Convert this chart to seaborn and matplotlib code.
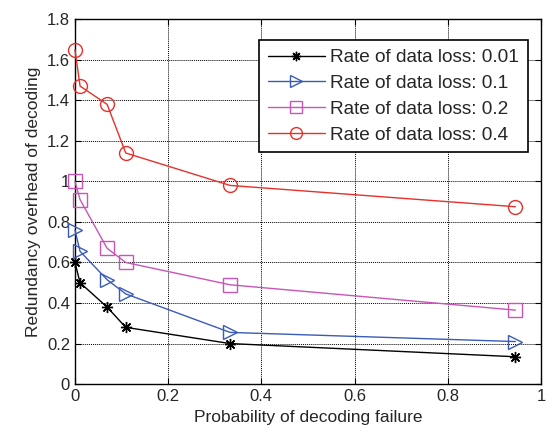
import numpy as np
import pandas as pd
import matplotlib
matplotlib.use("Agg")
import matplotlib.pyplot as plt
import seaborn as sns

fail_prob = [0.0, 0.011, 0.069, 0.109, 0.333, 0.945]
overhead_001 = [0.60, 0.50, 0.38, 0.28, 0.20, 0.135]
overhead_01 = [0.76, 0.655, 0.515, 0.445, 0.255, 0.21]
overhead_02 = [1.00, 0.91, 0.67, 0.60, 0.49, 0.365]
overhead_04 = [1.65, 1.47, 1.38, 1.14, 0.98, 0.875]
loss_labels = ["Rate of data loss: 0.01", "Rate of data loss: 0.1",
               "Rate of data loss: 0.2", "Rate of data loss: 0.4"]

df = pd.DataFrame({
    "p": fail_prob * 4,
    "overhead": overhead_001 + overhead_01 + overhead_02 + overhead_04,
    "loss": [l for l in loss_labels for _ in fail_prob],
})

sns.set_style("white")
plt.rcParams["font.family"] = ["Liberation Sans", "DejaVu Sans"]

colors = ["#000000", "#3a5bb8", "#c855b8", "#e8302a"]
# MATLAB-like asterisk: 8 spokes
markers = [(8, 2, 0), ">", "s", "o"]
sizes = [8, 10, 10, 10]

fig = plt.figure(figsize=(5.47, 4.36), dpi=100)
ax = fig.add_axes([0.137, 0.119, 0.852, 0.837])

for lab, c, m, ms in zip(loss_labels, colors, markers, sizes):
    sub = df[df["loss"] == lab]
    sns.lineplot(data=sub, x="p", y="overhead", ax=ax, color=c, marker=m,
                 markersize=ms, markerfacecolor="none",
                 markeredgecolor=c, markeredgewidth=1.0, linewidth=1.0,
                 label=lab, estimator=None, sort=False, clip_on=False, zorder=3)

ax.set_xlim(0, 1)
ax.set_ylim(0, 1.8)
ax.set_xticks([0, 0.2, 0.4, 0.6, 0.8, 1.0])
ax.set_xticklabels(["0", "0.2", "0.4", "0.6", "0.8", "1"])
ax.set_yticks(np.arange(0, 1.81, 0.2))
ax.set_yticklabels(["0", "0.2", "0.4", "0.6", "0.8", "1", "1.2", "1.4", "1.6", "1.8"])
ax.grid(True, color="black", linestyle=(0, (1, 1)), linewidth=0.7)
ax.tick_params(direction="in", length=4, labelsize=12, color="black",
               top=True, right=True, bottom=True, left=True)
for s in ax.spines.values():
    s.set_color("black")
    s.set_linewidth(1.0)
ax.set_xlabel("Probability of decoding failure", fontsize=12.5)
ax.set_ylabel("Redundancy overhead of decoding", fontsize=12.5)

leg = ax.legend(loc="upper right", bbox_to_anchor=(0.972, 0.942), fontsize=13.7,
                frameon=True, fancybox=False, framealpha=1, borderpad=0.45,
                labelspacing=0.45, handlelength=3.0, handletextpad=0.3,
                markerscale=0.85, borderaxespad=0)
leg.get_frame().set_edgecolor("black")
leg.get_frame().set_linewidth(1.2)

fig.savefig("out.png", dpi=100)
